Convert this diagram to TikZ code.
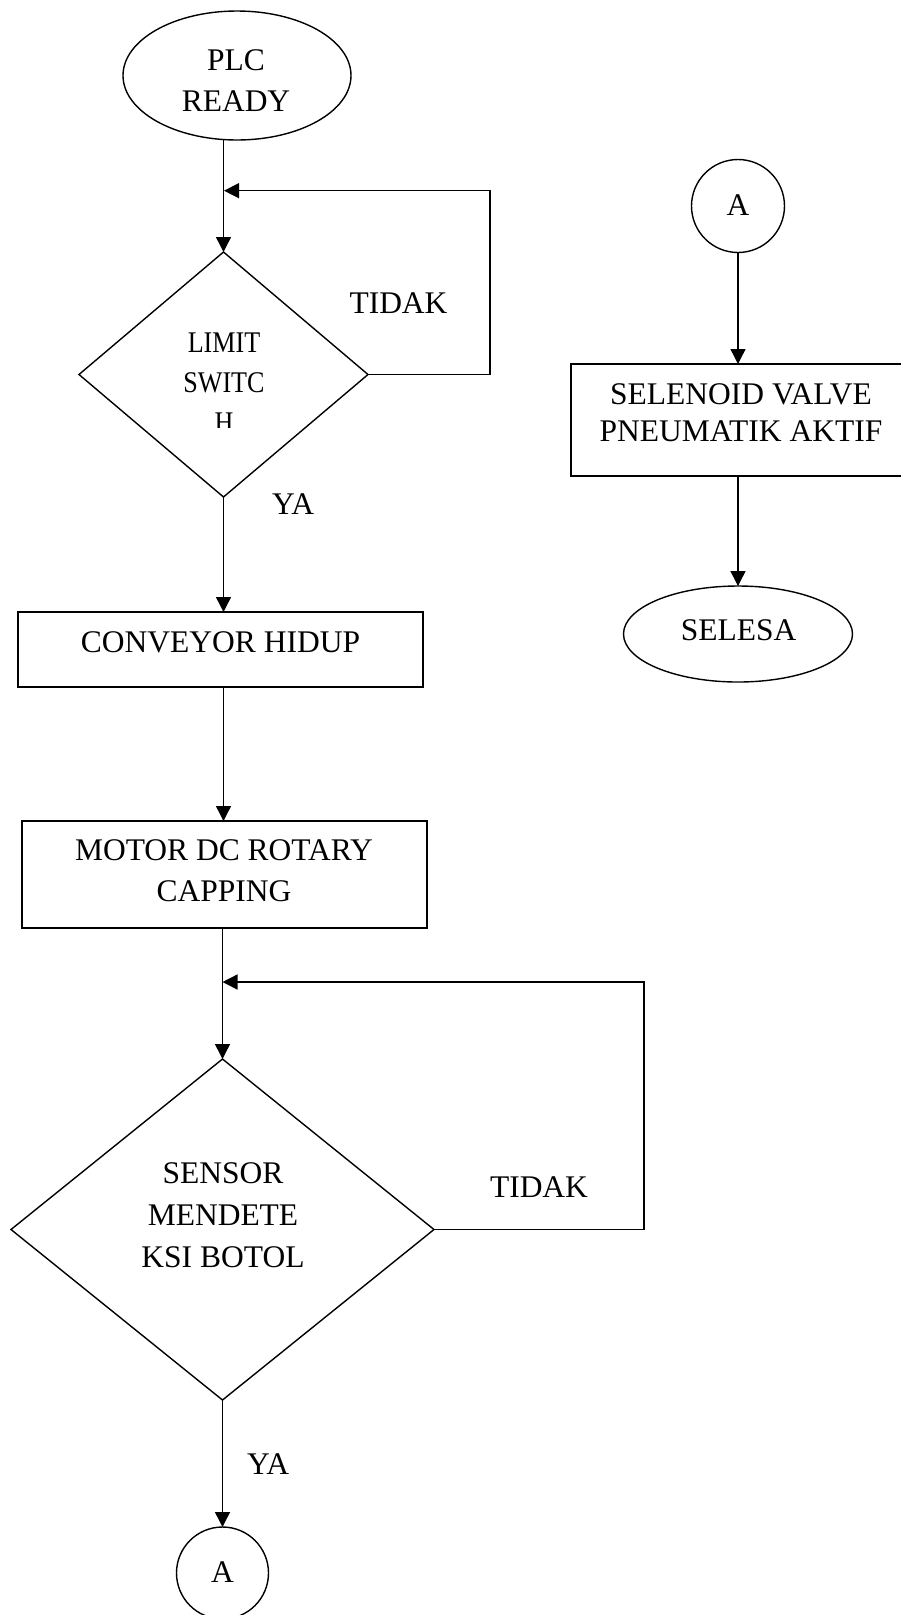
\documentclass[tikz,border=0pt]{standalone}
\usepackage{fontspec}
\setmainfont{Liberation Serif}
\newfontfamily\narrowserif[FakeStretch=0.87]{Liberation Serif}
\usetikzlibrary{shapes.geometric,arrows.meta}
\begin{document}
\begin{tikzpicture}[x=1pt,y=-1pt,
  line width=1.4pt,
  every node/.style={inner sep=0pt, outer sep=0pt},
  lbl/.style={align=center, font=\fontsize{31.5}{41}\selectfont},
  term/.style={draw, ellipse},
  boxed/.style={draw, rectangle},
  dec/.style={draw, diamond},
  conn/.style={draw, circle, minimum size=93pt},
  arr/.style={-{Triangle[length=15pt,width=15pt]}}
]
\useasboundingbox (0,0) rectangle (900,1615);

% ---- main flow (left column) ----
\node[term, minimum width=228pt, minimum height=129pt] (plc) at (237,75.5) {};
\node[lbl] (plcT) at (236,80.5) {PLC\\READY};

\node[dec, minimum width=289pt, minimum height=245pt] (d1) at (223.5,374.5) {};
\begin{scope}
  \clip (120,300) rectangle (330,427);
  \node[lbl, font=\narrowserif\fontsize{30}{40}\selectfont] (d1T) at (224,383) {LIMIT\\SWITC\\H};
\end{scope}
\node[lbl] (no1) at (398.5,303) {TIDAK};
\node[lbl] (yes1) at (293,504) {YA};

\node[boxed, minimum width=405pt, minimum height=75pt] (conv) at (220.5,649.5) {};
\node[lbl] (convT) at (220.5,642) {CONVEYOR HIDUP};

\node[boxed, minimum width=405pt, minimum height=107pt] (mot) at (224.5,874.5) {};
\node[lbl] (motT) at (224,871) {MOTOR DC ROTARY\\CAPPING};

\node[dec, minimum width=423pt, minimum height=341pt] (d2) at (222.5,1229.5) {};
\node[lbl, font=\fontsize{31.5}{42}\selectfont] (d2T) at (223,1215) {SENSOR\\MENDETE\\KSI BOTOL};
\node[lbl] (no2) at (539,1187.5) {TIDAK};
\node[lbl] (yes2) at (268,1464) {YA};

\node[conn, minimum size=92pt] (cA2) at (222.5,1573) {};
\node[lbl] (cA2T) at (222.5,1572) {A};

% ---- continuation (right column) ----
\node[conn] (cA1) at (738,206) {};
\node[lbl] (cA1T) at (738,205) {A};

\node[boxed, minimum width=336pt, minimum height=112pt] (sol) at (739,420) {};
\node[lbl, font=\fontsize{31.5}{37.5}\selectfont] (solT) at (741,412.5) {SELENOID VALVE\\PNEUMATIK AKTIF};

\node[term, minimum width=229pt, minimum height=96pt] (sel) at (738,634) {};
\node[lbl] (selT) at (738.5,630) {SELESA};

% ---- connectors ----
\coordinate (j1) at (224,190.7);
\coordinate (r1) at (490,190.7);
\coordinate (j2) at (222.5,982);
\coordinate (r2) at (644,982);

\draw[arr] (plc.south -| d1.north) -- (d1.north);
\draw[arr] (d1.east) -| (r1) -- (j1);
\draw[arr] (d1.south) -- (d1.south |- conv.north);
\draw[arr] (d1.south |- conv.south) -- (d1.south |- mot.north);
\draw[arr] (d2.north |- mot.south) -- (d2.north);
\draw[arr] (d2.east) -| (r2) -- (j2);
\draw[arr] (d2.south) -- (cA2.north);
\draw[arr] (cA1.south) -- (cA1.south |- sol.north);
\draw[arr] (cA1.south |- sol.south) -- (sel.north);
\end{tikzpicture}
\end{document}
